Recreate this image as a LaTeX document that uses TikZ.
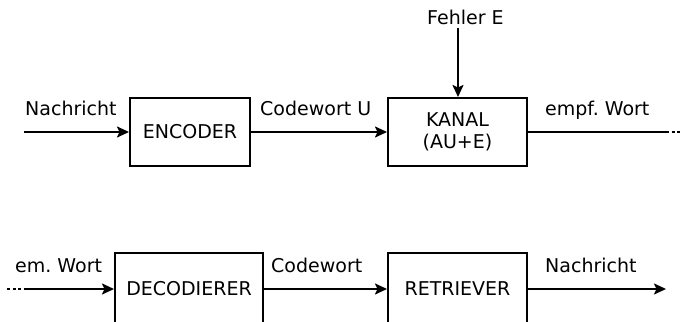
\documentclass[tikz,border=0pt]{standalone}
\usepackage{fontspec}
\setmainfont{DejaVu Sans}
\usetikzlibrary{arrows.meta}
\frenchspacing
\begin{document}
\begin{tikzpicture}[x=1pt,y=-1pt,
  font=\fontsize{19}{21.5}\selectfont,
  block/.style={draw,line width=2pt,inner sep=0pt,align=center},
  conn/.style={line width=2pt},
  arr/.style={conn,-{Stealth[length=12pt,width=11pt,inset=2.5pt]}},
  lbl/.style={anchor=base west,inner sep=0pt},
  dots/.style={line width=2pt,dash pattern=on 3pt off 2.5pt}]
\useasboundingbox (0,0) rectangle (682,321);
\clip (0,0) rectangle (682,321);

% upper row: encoder and channel
\node[block,minimum width=120pt,minimum height=68pt] (enc) at (190,132) {ENCODER};
\node[block,minimum width=139pt,minimum height=68pt] (kan) at (457.5,132) {KANAL\\(AU+E)};
\coordinate (in) at (24,132);
\coordinate (err) at (458,28);
\coordinate (outA) at (666,132);
\coordinate (outB) at (682,132);

\draw[arr] (in) -- (enc.west);
\draw[arr] (enc.east) -- (kan.west);
\draw[arr] (err) -- (err |- kan.north);
\draw[conn] (kan.east) -- (outA);
\draw[dots] (outA) -- (outB);

\node[lbl] (l1) at (25,115.5) {Nachricht};
\node[lbl] (l2) at (260,115.5) {Codewort U};
\node[lbl] (l3) at (545,115.5) {empf. Wort};
\node[lbl] (l4) at (427,24.5) {Fehler E};

% lower row: decoder and retriever
\node[block,minimum width=148pt,minimum height=72pt] (dec) at (189,289) {DECODIERER};
\node[block,minimum width=139pt,minimum height=72pt] (ret) at (457.5,289) {RETRIEVER};
\coordinate (inA) at (7,289);
\coordinate (inB) at (24,289);
\coordinate (out) at (666,289);

\draw[dots] (inA) -- (inB);
\draw[arr] (inB) -- (dec.west);
\draw[arr] (dec.east) -- (ret.west);
\draw[arr] (ret.east) -- (out);

\node[lbl] (l5) at (15,272.5) {em. Wort};
\node[lbl] (l6) at (271,272.5) {Codewort};
\node[lbl] (l7) at (545,272) {Nachricht};
\end{tikzpicture}
\end{document}
